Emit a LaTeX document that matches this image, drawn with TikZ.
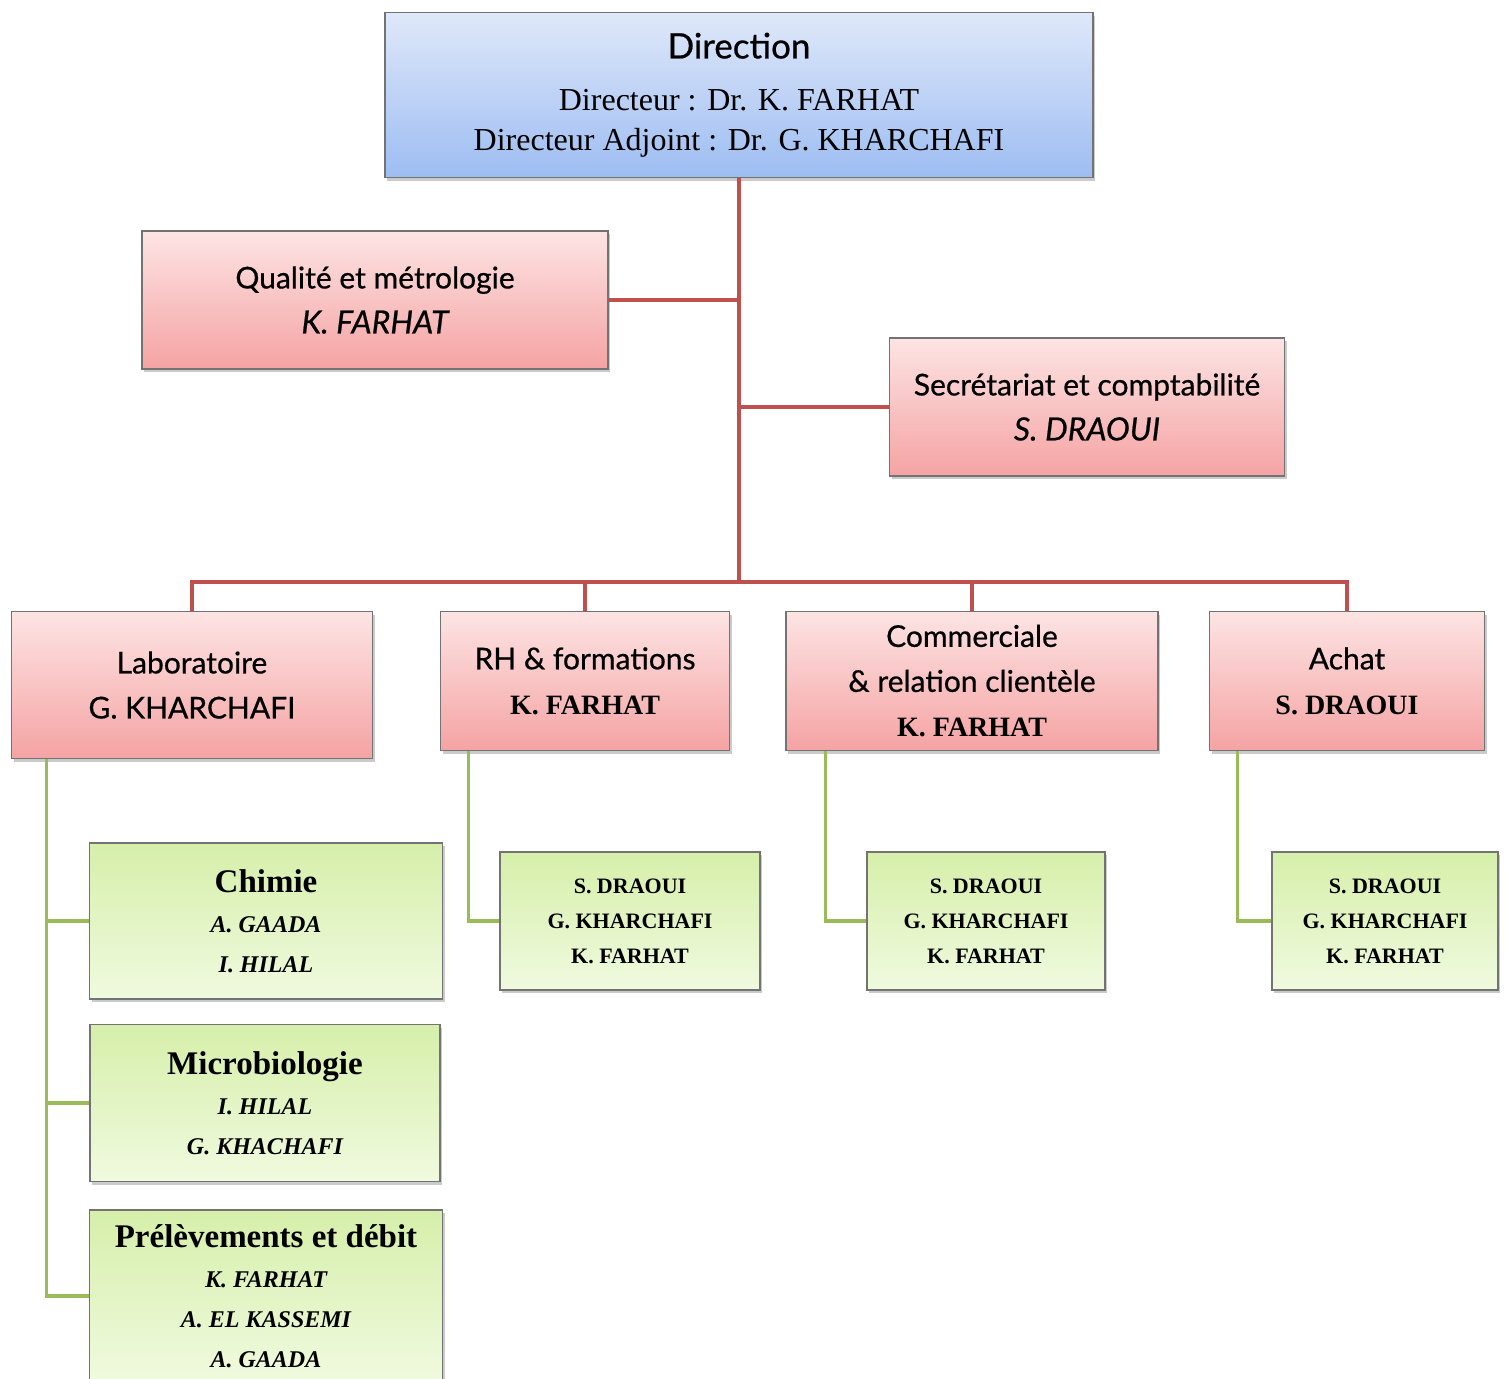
\documentclass[tikz,border=0pt]{standalone}
\usepackage{fontspec}
\setmainfont{Liberation Serif}
\newfontfamily\titlefont[FakeBold=0.6]{Lato}
\usetikzlibrary{shadows}

\definecolor{dirtop}{HTML}{DFE8F9}
\definecolor{dirbot}{HTML}{9DBDF2}
\definecolor{servtop}{HTML}{FDE4E4}
\definecolor{servbot}{HTML}{F5A3A3}
\definecolor{unittop}{HTML}{D6EFAA}
\definecolor{unitbot}{HTML}{F0FADF}
\definecolor{redlink}{HTML}{C0504D}
\definecolor{greenlink}{HTML}{9BBB59}

\tikzset{
  box/.style={draw=black!55, line width=0.8pt, align=center, inner sep=0pt,
    drop shadow={shadow xshift=1.2pt, shadow yshift=-1.5pt, opacity=0.35, fill=black!60}},
  dirbox/.style={box, top color=dirtop, bottom color=dirbot},
  servbox/.style={box, top color=servtop, bottom color=servbot, font=\titlefont\fontsize{15}{22.5}\selectfont},
  unitbox/.style={box, top color=unittop, bottom color=unitbot, font=\bfseries\fontsize{12}{20}\selectfont},
  namebox/.style={box, top color=unittop, bottom color=unitbot, font=\bfseries\fontsize{11}{17.5}\selectfont},
  redline/.style={draw=redlink, line width=1.6pt},
  greenline/.style={draw=greenlink, line width=1.6pt},
}

\begin{document}
\begin{tikzpicture}[x=0.5pt, y=-0.5pt]
  \useasboundingbox (0,0) rectangle (1507,1378);

  % 1. Direction
  \node[dirbox, minimum width=354pt, minimum height=82.5pt, font=\fontsize{16}{20}\selectfont] (dir) at (739,95)
    {{\titlefont\fontsize{17.5}{20}\selectfont Direction}\\[6pt]
     Directeur : Dr. K. FARHAT\\
     Directeur Adjoint : Dr. G. KHARCHAFI};

  % 2. Services rattaches
  \node[servbox, minimum width=233pt, minimum height=69pt] (qual) at (375,300)
    {Qualité et métrologie\\ {\itshape\fontsize{16}{22.5}\selectfont K. FARHAT}};
  \node[servbox, minimum width=197.5pt, minimum height=69pt] (sec) at (1087,407)
    {Secrétariat et comptabilité\\ {\itshape\fontsize{16}{22.5}\selectfont S. DRAOUI}};

  % 3. Services
  \node[servbox, minimum width=180.5pt, minimum height=73.5pt] (lab) at (192,685)
    {Laboratoire\\ G. KHARCHAFI};
  \node[servbox, minimum width=144.5pt, minimum height=69.5pt] (rh) at (585,681)
    {RH \& formations\\ {\rmfamily\bfseries\fontsize{14}{22.5}\selectfont K. FARHAT}};
  \node[servbox, minimum width=186pt, minimum height=69.5pt] (com) at (972,681)
    {Commerciale\\ \& relation clientèle\\ {\rmfamily\bfseries\fontsize{14}{22.5}\selectfont K. FARHAT}};
  \node[servbox, minimum width=137.5pt, minimum height=69.5pt] (ach) at (1347,681)
    {Achat\\ {\rmfamily\bfseries\fontsize{14}{22.5}\selectfont S. DRAOUI}};

  % 4. Unites du laboratoire
  \node[unitbox, minimum width=176.5pt, minimum height=78pt] (chi) at (266,921)
    {{\fontsize{16.5}{21}\selectfont Chimie}\\ \itshape A. GAADA\\ \itshape I. HILAL};
  \node[unitbox, minimum width=175pt, minimum height=78.5pt] (mic) at (265,1103)
    {{\fontsize{16.5}{21}\selectfont Microbiologie}\\ \itshape I. HILAL\\ \itshape G. KHACHAFI};
  \node[unitbox, minimum width=176.5pt, minimum height=86pt] (pre) at (266,1296)
    {{\fontsize{16.5}{21}\selectfont Prélèvements et débit}\\ \itshape K. FARHAT\\ \itshape A. EL KASSEMI\\ \itshape A. GAADA};

  % 5. Equipes
  \node[namebox, minimum width=130pt, minimum height=69pt] (rhs) at (630,921)
    {S. DRAOUI\\ G. KHARCHAFI\\ K. FARHAT};
  \node[namebox, minimum width=119pt, minimum height=69pt] (coms) at (986,921)
    {S. DRAOUI\\ G. KHARCHAFI\\ K. FARHAT};
  \node[namebox, minimum width=113pt, minimum height=69pt] (achs) at (1385,921)
    {S. DRAOUI\\ G. KHARCHAFI\\ K. FARHAT};

  % 6. Liaisons rouges
  \coordinate (bus) at (739,582);
  \draw[redline] (dir.south) -- (bus);
  \draw[redline] (qual.east) -- (qual.east -| dir.south);
  \draw[redline] (sec.west) -- (sec.west -| dir.south);
  \draw[redline] (lab.north) |- (bus) -| (ach.north);
  \draw[redline] (rh.north) -- (rh.north |- bus);
  \draw[redline] (com.north) -- (com.north |- bus);

  % 7. Liaisons vertes
  \foreach \n in {chi,mic,pre}
    \draw[greenline] ([xshift=18pt]lab.south west) |- (\n.west);
  \draw[greenline] ([xshift=14.5pt]rh.south west) |- (rhs.west);
  \draw[greenline] ([xshift=20pt]com.south west) |- (coms.west);
  \draw[greenline] ([xshift=14.5pt]ach.south west) |- (achs.west);
\end{tikzpicture}
\end{document}
